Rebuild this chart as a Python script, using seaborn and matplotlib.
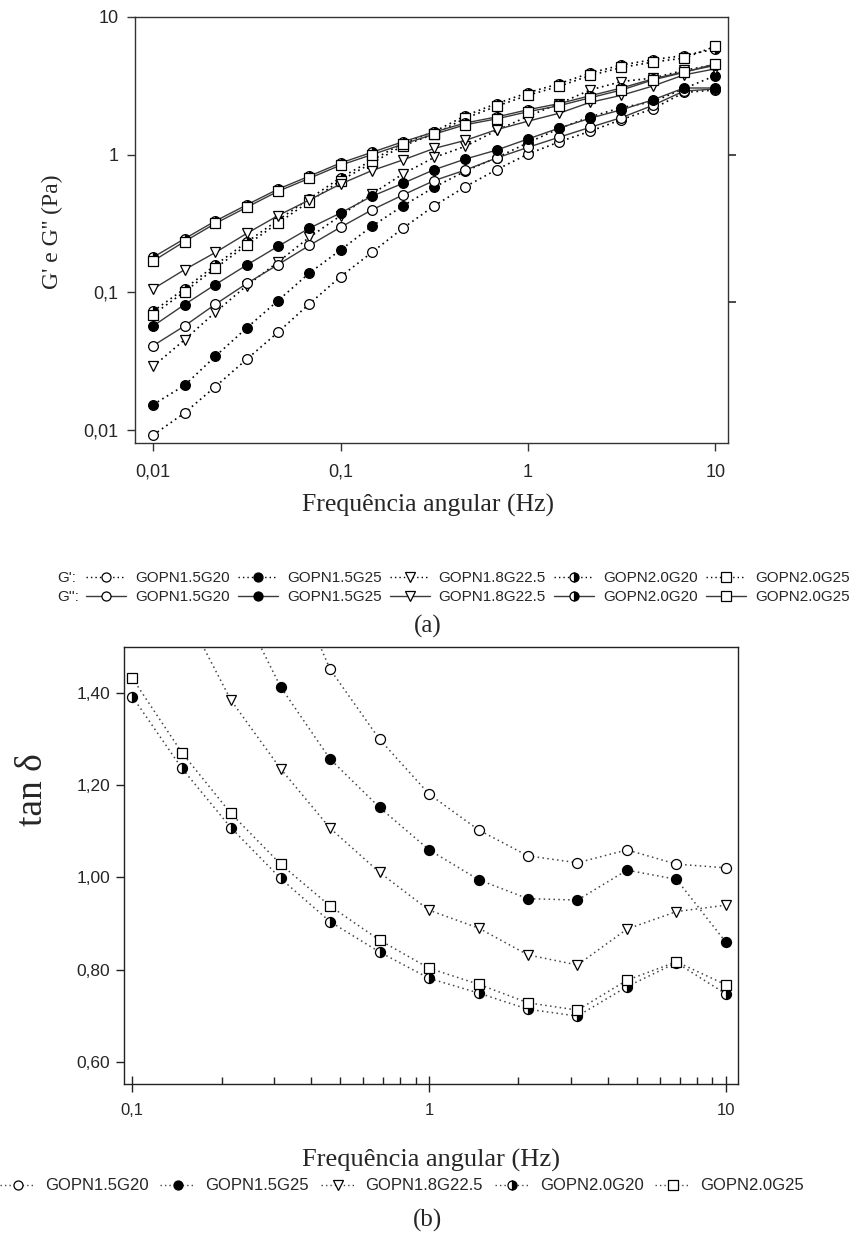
import matplotlib
matplotlib.use("Agg")
import matplotlib.pyplot as plt
import seaborn as sns
from matplotlib.lines import Line2D

# ---------------- data (a): G' and G'' vs angular frequency ----------------
freq_a = [0.01, 0.0147, 0.0215, 0.0316, 0.0464, 0.0681, 0.1, 0.147, 0.215, 0.316,
          0.464, 0.681, 1, 1.47, 2.15, 3.16, 4.64, 6.81, 10]

gp_15g20 = [0.0092, 0.0133, 0.0207, 0.0327, 0.0513, 0.0824, 0.130, 0.195, 0.292, 0.425,
            0.586, 0.778, 1.01, 1.24, 1.48, 1.80, 2.15, 2.83, 2.95]
gp_15g25 = [0.0153, 0.0211, 0.0344, 0.0552, 0.0871, 0.138, 0.203, 0.302, 0.424, 0.58,
            0.76, 0.95, 1.22, 1.55, 1.88, 2.20, 2.42, 3.02, 3.75]
gp_18g225 = [0.029, 0.0452, 0.0718, 0.112, 0.166, 0.251, 0.36, 0.518, 0.724, 0.955,
             1.15, 1.50, 1.90, 2.35, 2.95, 3.40, 3.60, 4.10, 4.50]
gp_20g20 = [0.073, 0.106, 0.158, 0.232, 0.335, 0.478, 0.68, 0.91, 1.21, 1.47,
            1.92, 2.35, 2.82, 3.28, 3.92, 4.48, 4.90, 5.25, 5.85]
gp_20g25 = [0.069, 0.101, 0.150, 0.221, 0.319, 0.456, 0.648, 0.87, 1.16, 1.41,
            1.84, 2.25, 2.70, 3.14, 3.76, 4.30, 4.70, 5.03, 6.12]

gpp_15g20 = [0.041, 0.057, 0.082, 0.116, 0.159, 0.219, 0.297, 0.397, 0.509, 0.648,
             0.774, 0.946, 1.13, 1.34, 1.58, 1.86, 2.28, 2.90, 3.00]
gpp_15g25 = [0.057, 0.0815, 0.114, 0.158, 0.216, 0.292, 0.377, 0.499, 0.619, 0.778,
             0.93, 1.08, 1.30, 1.56, 1.84, 2.12, 2.50, 3.05, 3.05]
gpp_18g225 = [0.106, 0.146, 0.195, 0.268, 0.361, 0.469, 0.612, 0.766, 0.915, 1.11,
              1.27, 1.52, 1.75, 2.00, 2.40, 2.70, 3.15, 3.80, 4.20]
gpp_20g20 = [0.180, 0.245, 0.330, 0.432, 0.562, 0.698, 0.87, 1.04, 1.24, 1.46,
             1.70, 1.88, 2.12, 2.35, 2.68, 3.05, 3.55, 4.00, 4.45]
gpp_20g25 = [0.169, 0.234, 0.317, 0.415, 0.542, 0.673, 0.839, 1.00, 1.19, 1.41,
             1.65, 1.82, 2.05, 2.27, 2.59, 2.95, 3.49, 3.96, 4.57]

# ---------------- data (b): tan delta ----------------
freq_b = [0.1, 0.147, 0.215, 0.316, 0.464, 0.681, 1, 1.47, 2.15, 3.16, 4.64, 6.81, 10]
tan_15g20 = [None, None, None, 1.70, 1.452, 1.300, 1.181, 1.103, 1.047, 1.032, 1.060, 1.029, 1.021]
tan_15g25 = [None, None, 1.63, 1.414, 1.257, 1.152, 1.060, 0.995, 0.954, 0.951, 1.016, 0.996, 0.859]
tan_18g225 = [None, 1.59, 1.385, 1.236, 1.107, 1.011, 0.929, 0.890, 0.832, 0.810, 0.888, 0.926, 0.940]
tan_20g20 = [1.393, 1.237, 1.108, 0.998, 0.904, 0.838, 0.781, 0.749, 0.714, 0.699, 0.763, 0.815, 0.747]
tan_20g25 = [1.433, 1.271, 1.139, 1.029, 0.938, 0.864, 0.803, 0.768, 0.728, 0.712, 0.777, 0.817, 0.767]

names = ["GOPN1.5G20", "GOPN1.5G25", "GOPN1.8G22.5", "GOPN2.0G20", "GOPN2.0G25"]
tick_a_x = [0.01, 0.1, 1, 10]
tick_a_x_lab = ["0,01", "0,1", "1", "10"]
tick_a_y = [0.01, 0.1, 1, 10]
tick_a_y_lab = ["0,01", "0,1", "1", "10"]
tick_b_x = [0.1, 1, 10]
tick_b_x_lab = ["0,1", "1", "10"]
tick_b_y = [0.6, 0.8, 1.0, 1.2, 1.4]
tick_b_y_lab = ["0,60", "0,80", "1,00", "1,20", "1,40"]

# ---------------- styles ----------------
MARKERS = [("o", "white"), ("o", "black"), ("v", "white"), ("o", "half"), ("s", "white")]
DOT = (0, (1, 2.2))

sns.set_theme(style="ticks")
plt.rcParams["font.family"] = ["Liberation Sans", "DejaVu Sans"]
SERIF = ["Liberation Serif", "DejaVu Serif"]


def mk_kws(marker, fill, ms, mew=0.9):
    kw = dict(marker=marker, markersize=ms, markeredgecolor="black", markeredgewidth=mew)
    if fill == "white":
        kw["markerfacecolor"] = "white"
    elif fill == "black":
        kw["markerfacecolor"] = "black"
    else:
        kw["markerfacecolor"] = "black"
        kw["markerfacecoloralt"] = "white"
        kw["fillstyle"] = "right"
    return kw


def draw(ax, x, y, marker, fill, ls, lw, lc, ms):
    xs = [a for a, b in zip(x, y) if b is not None]
    ys = [b for b in y if b is not None]
    sns.lineplot(x=xs, y=ys, ax=ax, sort=False, estimator=None, color=lc,
                 linestyle=ls, linewidth=lw, **mk_kws(marker, fill, ms))


fig = plt.figure(figsize=(8.58, 12.38), dpi=100)
fig.patch.set_facecolor("white")

# ================= panel (a) =================
ax1 = fig.add_axes([135 / 858, 1 - 443 / 1238, 593 / 858, 426 / 1238])
gps = [gp_15g20, gp_15g25, gp_18g225, gp_20g20, gp_20g25]
gpps = [gpp_15g20, gpp_15g25, gpp_18g225, gpp_20g20, gpp_20g25]
for (m, f), y in zip(MARKERS, gps):
    draw(ax1, freq_a, y, m, f, DOT, 1.2, "black", 7)
for (m, f), y in zip(MARKERS, gpps):
    draw(ax1, freq_a, y, m, f, "-", 1.0, "#3a3a3a", 7)

ax1.set_xscale("log")
ax1.set_yscale("log")
ax1.set_xlim(0.008, 11.7)
ax1.set_ylim(0.00805, 10)
ax1.set_xticks(tick_a_x, tick_a_x_lab)
ax1.set_yticks(tick_a_y, tick_a_y_lab)
ax1.minorticks_off()
ax1.tick_params(axis="both", which="major", direction="out", length=6, width=1,
                color="#333333", labelsize=13, pad=6)
ax1.tick_params(axis="x", pad=9)
ax1.set_xlabel("")
ax1.set_ylabel("")
for s in ax1.spines.values():
    s.set_visible(True)
    s.set_color("#333333")
    s.set_linewidth(1.0)
axr = ax1.twinx()
axr.set_yscale("log")
axr.set_ylim(ax1.get_ylim())
axr.set_yticks([1, 0.085], ["", ""])
axr.minorticks_off()
axr.tick_params(axis="y", direction="out", length=6, color="#333333")
for s in axr.spines.values():
    s.set_visible(False)

fig.text(428 / 858, 1 - 505 / 1238, "Frequência angular (Hz)", ha="center", va="center",
         family=SERIF, fontsize=18.5)
fig.text(52 / 858, 1 - 232 / 1238, "G' e G'' (Pa)", ha="center", va="center",
         rotation=90, family=SERIF, fontsize=17)

# legend (a)
h1 = [Line2D([], [], color="black", linestyle=DOT, linewidth=1.0, **mk_kws(m, f, 6.5))
      for m, f in MARKERS]
h2 = [Line2D([], [], color="#3a3a3a", linestyle="-", linewidth=1.0, **mk_kws(m, f, 6.5))
      for m, f in MARKERS]
for row_y, hs, pre in [(578, h1, "G':"), (597, h2, "G'':")]:
    fig.text(57 / 858, 1 - row_y / 1238, pre, ha="left", va="center", fontsize=11)
    fig.legend(hs, names, loc="center left", bbox_to_anchor=(86 / 858, 1 - row_y / 1238),
               ncol=5, frameon=False, fontsize=11, handlelength=2.6, handletextpad=0.6,
               columnspacing=0.55, borderpad=0, borderaxespad=0)

fig.text(428 / 858, 1 - 626 / 1238, "(a)", ha="center", va="center", family=SERIF, fontsize=18)

# ================= panel (b) =================
ax2 = fig.add_axes([124 / 858, 1 - 1084 / 1238, 613.7 / 858, 437 / 1238])
tans = [tan_15g20, tan_15g25, tan_18g225, tan_20g20, tan_20g25]
for (m, f), y in zip(MARKERS, tans):
    draw(ax2, freq_b, y, m, f, DOT, 1.1, "#444444", 7.2)
ax2.set_xscale("log")
ax2.set_xlim(0.0938, 10.95)
ax2.set_ylim(0.5516, 1.5005)
ax2.set_xticks(tick_b_x, tick_b_x_lab)
ax2.set_yticks(tick_b_y, tick_b_y_lab)
minor_b = [k * 0.1 for k in range(2, 10)] + [k * 1.0 for k in range(2, 10)]
ax2.set_xticks(minor_b, minor=True)
ax2.set_xticklabels([], minor=True)
ax2.tick_params(axis="x", which="major", direction="inout", length=12, width=1,
                color="#222222", labelsize=12, pad=8)
ax2.tick_params(axis="x", which="minor", direction="in", length=5, width=1, color="#222222")
ax2.tick_params(axis="y", which="major", direction="out", length=6, width=1,
                color="#222222", labelsize=12.5, pad=4)
ax2.set_xlabel("")
ax2.set_ylabel("")
for s in ax2.spines.values():
    s.set_visible(True)
    s.set_color("#222222")
    s.set_linewidth(1.0)

fig.text(33 / 858, 1 - 790 / 1238, "tan δ", ha="center", va="center", rotation=90,
         family=SERIF, fontsize=27)
fig.text(431 / 858, 1 - 1160 / 1238, "Frequência angular (Hz)", ha="center", va="center",
         family=SERIF, fontsize=19)

h3 = [Line2D([], [], color="#444444", linestyle=DOT, linewidth=1.0, **mk_kws(m, f, 6.5))
      for m, f in MARKERS]
fig.legend(h3, names, loc="center left", bbox_to_anchor=(0 / 858, 1 - 1186 / 1238),
           ncol=5, frameon=False, fontsize=12, handlelength=2.1, handletextpad=0.6,
           columnspacing=0.7, borderpad=0, borderaxespad=0)

fig.text(428 / 858, 1 - 1220 / 1238, "(b)", ha="center", va="center", family=SERIF, fontsize=18)

fig.savefig("out.png", dpi=100, facecolor="white")
